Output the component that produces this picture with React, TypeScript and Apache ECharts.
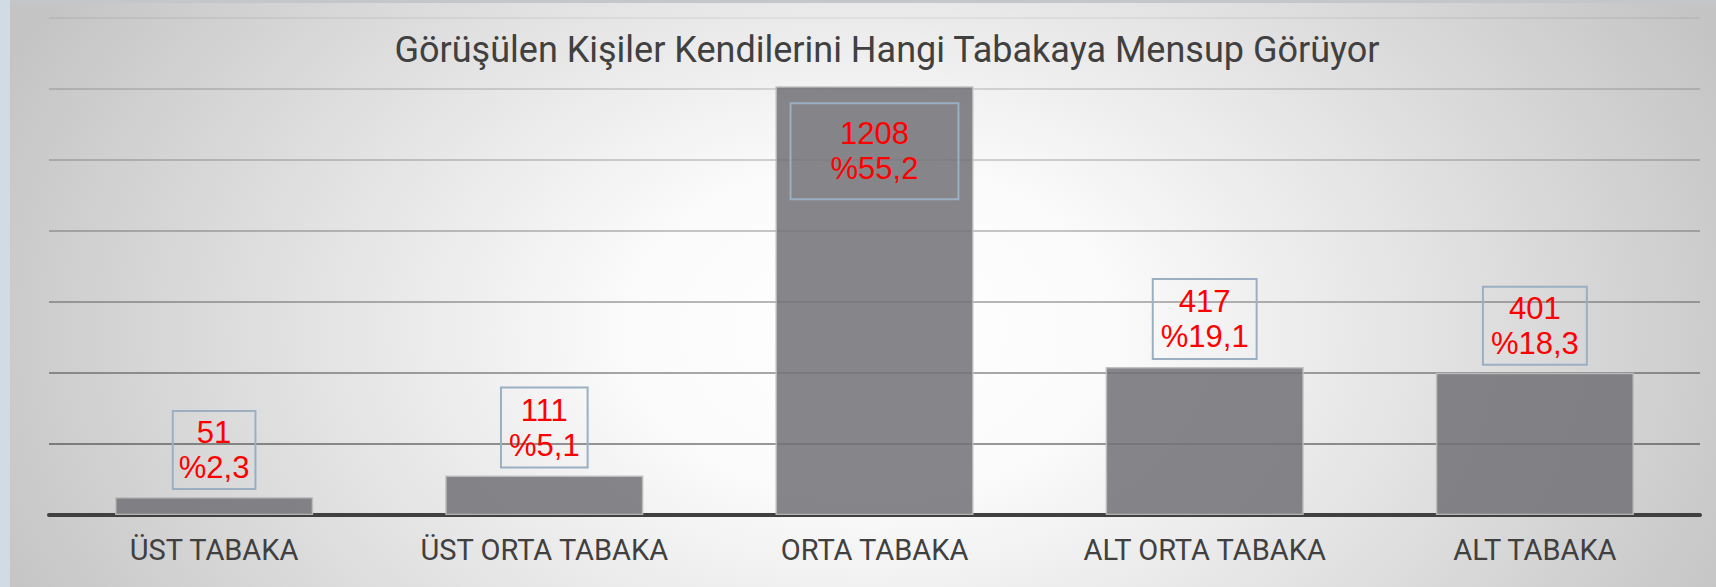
import React, { useEffect, useRef } from "react";
import * as echarts from "echarts";

const categories = ["ÜST TABAKA", "ÜST ORTA TABAKA", "ORTA TABAKA", "ALT ORTA TABAKA", "ALT TABAKA"];
const counts = [51, 111, 1208, 417, 401];
const percents = ["2,3", "5,1", "55,2", "19,1", "18,3"];
const titleText = "Görüşülen Kişiler Kendilerini Hangi Tabakaya Mensup Görüyor";
const yMax = 1400;
const yStep = 200;

const gridAlphas = [0.0, 0.4, 0.34, 0.28, 0.22, 0.17, 0.13, 0.05];
const labelPads = [
  [4, 6],
  [5, 8],
  [13, 40],
  [5, 8],
  [4, 8],
];

export default function App() {
  const ref = useRef<HTMLDivElement>(null);
  useEffect(() => {
    if (!ref.current) return;
    const chart = echarts.init(ref.current, null, { renderer: "svg" });
    const data = counts.map((v, i) => {
      const inside = i === 2;
      return {
        value: v,
        label: {
          position: inside ? "insideTop" : "top",
          distance: inside ? 17 : 8,
          padding: labelPads[i],
        },
      };
    });
    chart.setOption({
      animation: false,
      backgroundColor: "transparent",
      title: {
        text: titleText,
        left: 882,
        top: 27,
        textAlign: "center",
        textStyle: {
          fontFamily: "Roboto",
          fontWeight: "normal",
          fontSize: 36,
          color: "#404040",
        },
      },
      grid: { left: 49, right: 16, top: 18, bottom: 72, containLabel: false },
      xAxis: {
        type: "category",
        data: categories,
        axisTick: { show: false },
        axisLine: { show: true, lineStyle: { color: "#404040", width: 4 } },
        axisLabel: {
          fontFamily: "Roboto",
          fontSize: 29,
          color: "#404040",
          margin: 20,
          interval: 0,
        },
      },
      yAxis: {
        type: "value",
        min: 0,
        max: yMax,
        interval: yStep,
        axisLabel: { show: false },
        axisLine: { show: false },
        axisTick: { show: false },
        splitLine: {
          show: true,
          lineStyle: {
            width: 2,
            color: gridAlphas.map((a) => `rgba(0,0,0,${a})`),
          },
        },
      },
      series: [
        {
          type: "bar",
          data,
          barWidth: "60%",
          itemStyle: {
            color: "rgba(114,113,119,0.86)",
            borderColor: "rgba(190,190,190,0.9)",
            borderWidth: 1.5,
          },
          label: {
            show: true,
            formatter: (p: any) => `${counts[p.dataIndex]}\n%${percents[p.dataIndex]}`,
            color: "#ff0000",
            fontFamily: "'Liberation Sans', Arial, sans-serif",
            fontSize: 31,
            lineHeight: 35,
            align: "center",
            borderColor: "#9ab0c2",
            borderWidth: 2,
          },
        },
      ],
    });
    return () => chart.dispose();
  }, []);

  return (
    <div
      style={{
        position: "fixed",
        left: 0,
        top: 0,
        width: 1716,
        height: 587,
        background: "#d1dbe3",
        overflow: "hidden",
      }}
    >
      <div
        style={{
          position: "absolute",
          left: 10,
          top: 0,
          width: 1706,
          height: 3,
          background: "#c3c7cb",
        }}
      />
      <div
        style={{
          position: "absolute",
          left: 10,
          top: 3,
          width: 1706,
          height: 584,
          background:
            "radial-gradient(ellipse 950px 650px at 860px 327px, #ffffff 0%, #fbfbfb 25%, #e2e2e2 60%, #c4c4c4 100%)",
        }}
      />
      <div ref={ref} style={{ position: "absolute", left: 0, top: 0, width: 1716, height: 587 }} />
    </div>
  );
}
